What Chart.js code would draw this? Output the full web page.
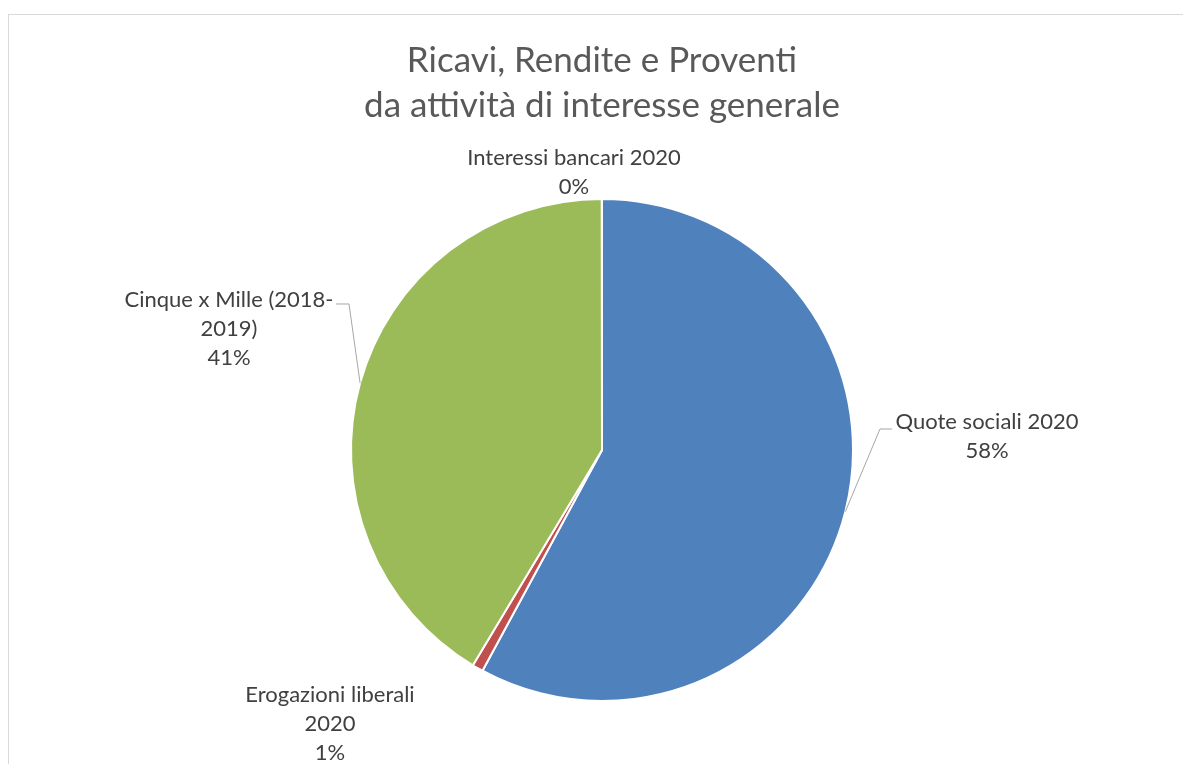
<!DOCTYPE html>
<html>
<head>
<meta charset="utf-8">
<script src="https://cdn.jsdelivr.net/npm/chart.js@4/dist/chart.umd.min.js"></script>
<style>
html,body{margin:0;padding:0;background:#fff;overflow:hidden;}
#wrap{position:absolute;left:0;top:0;width:1183px;height:764px;}
#frame{position:absolute;left:8px;top:14px;width:1300px;height:900px;border:1px solid #d9d9d9;box-sizing:border-box;}
canvas{position:absolute;left:0;top:0;}
</style>
</head>
<body>
<div id="wrap"><div id="frame"></div><canvas id="c" width="1183" height="764"></canvas></div>
<script>
// Data
const categories = ["Quote sociali 2020", "Erogazioni liberali 2020", "Cinque x Mille (2018-2019)", "Interessi bancari 2020"];
const labelLines = [["Quote sociali 2020"], ["Erogazioni liberali", "2020"], ["Cinque x Mille (2018-", "2019)"], ["Interessi bancari 2020"]];
const values = [57.9, 0.7, 41.39, 0.01];
const colors = ["#4F81BD", "#C0504D", "#9BBB59", "#8064A2"];
const titleLines = ["Ricavi, Rendite e Proventi", "da attività di interesse generale"];

// Label layout (offsets in px from pie centre) and leader elbows
const labelPos = [[385, -14], [-272, 274], [-373, -121], [-28, -278]];
const leaders = [[[278, -21], [290, -21]], null, [[-253, -146], [-266, -146]], null];

const labelPlugin = {
  id: 'sliceLabels',
  afterDatasetsDraw(chart) {
    const ctx = chart.ctx;
    const meta = chart.getDatasetMeta(0);
    const total = values.reduce((a, b) => a + b, 0);
    ctx.save();
    meta.data.forEach((arc, i) => {
      const p = arc.getProps(['x', 'y', 'startAngle', 'endAngle', 'outerRadius'], true);
      const mid = (p.startAngle + p.endAngle) / 2;
      const ex = p.x + Math.cos(mid) * p.outerRadius;
      const ey = p.y + Math.sin(mid) * p.outerRadius;
      if (leaders[i]) {
        ctx.strokeStyle = '#a6a6a6';
        ctx.lineWidth = 1;
        ctx.beginPath();
        ctx.moveTo(ex, ey);
        leaders[i].forEach(pt => ctx.lineTo(p.x + pt[0], p.y + pt[1]));
        ctx.stroke();
      }
      const lines = labelLines[i].concat([Math.round(values[i] / total * 100) + '%']);
      const lh = 29;
      const cx = p.x + labelPos[i][0];
      const cy = p.y + labelPos[i][1];
      ctx.fillStyle = '#404040';
      ctx.font = '22px Lato';
      ctx.textAlign = 'center';
      ctx.textBaseline = 'middle';
      lines.forEach((t, k) => {
        ctx.fillText(t, cx, cy + (k - (lines.length - 1) / 2) * lh);
      });
    });
    ctx.restore();
  }
};

new Chart(document.getElementById('c'), {
  type: 'pie',
  data: {
    labels: categories,
    datasets: [{
      data: values,
      backgroundColor: colors,
      borderColor: '#ffffff',
      borderWidth: 2
    }]
  },
  options: {
    responsive: false,
    animation: false,
    layout: { padding: { left: 350, right: 329, top: 0, bottom: 62 } },
    plugins: {
      legend: { display: false },
      tooltip: { enabled: false },
      title: {
        display: true,
        text: titleLines,
        color: '#595959',
        font: { family: 'Lato', size: 35, weight: 'normal', lineHeight: 1.2857 },
        padding: { top: 38, bottom: 70 }
      }
    }
  },
  plugins: [labelPlugin]
});
</script>
</body>
</html>
